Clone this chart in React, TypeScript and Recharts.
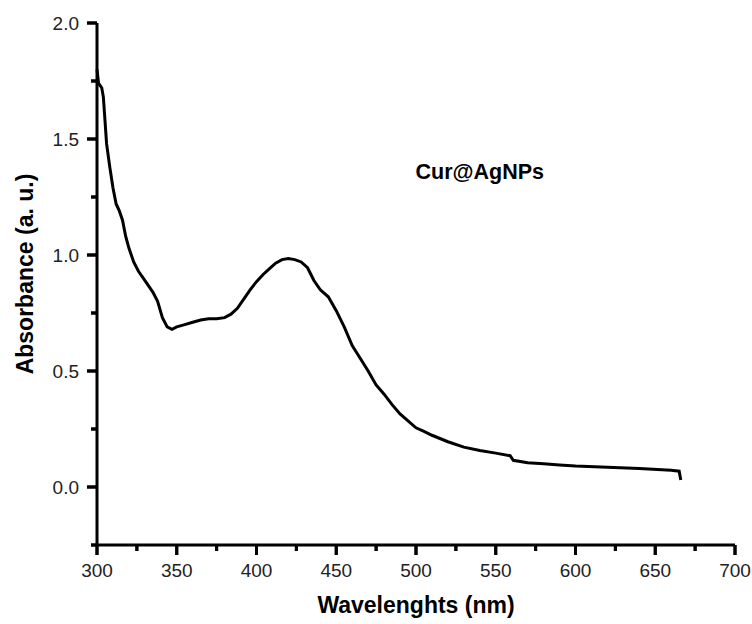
import React from 'react';
import { LineChart, Line, XAxis, YAxis, ReferenceDot, ReferenceLine } from 'recharts';

const wavelengths = [
  300, 301, 302, 303, 304, 305, 306, 308, 310, 312, 314, 316, 318, 320, 323, 326, 329, 332, 335, 338,
  341, 344, 347, 350, 355, 360, 365, 370, 375, 380, 384, 388, 392, 396, 400, 404, 408, 412, 416, 420,
  424, 428, 432, 436, 440, 445, 450, 455, 460, 465, 470, 475, 480, 485, 490, 495, 500, 505, 510, 520,
  530, 540, 550, 559, 561, 570, 580, 590, 600, 620, 640, 660, 665, 666,
];
const absorbance = [
  1.8, 1.74, 1.73, 1.72, 1.68, 1.58, 1.48, 1.38, 1.29, 1.22, 1.19, 1.15, 1.08, 1.03, 0.97, 0.93, 0.9, 0.87, 0.84, 0.8,
  0.73, 0.69, 0.68, 0.69, 0.7, 0.71, 0.72, 0.725, 0.725, 0.73, 0.745, 0.77, 0.81, 0.85, 0.885, 0.915, 0.94, 0.965, 0.98, 0.985,
  0.98, 0.97, 0.945, 0.89, 0.85, 0.82, 0.76, 0.69, 0.61, 0.555, 0.5, 0.44, 0.4, 0.355, 0.315, 0.285, 0.255, 0.24, 0.223, 0.195,
  0.172, 0.157, 0.146, 0.135, 0.115, 0.105, 0.1, 0.095, 0.09, 0.085, 0.08, 0.072, 0.068, 0.03,
];

const xTicks = [300, 325, 350, 375, 400, 425, 450, 475, 500, 525, 550, 575, 600, 625, 650, 675, 700];
const yTicks = [-0.25, 0, 0.25, 0.5, 0.75, 1, 1.25, 1.5, 1.75, 2];

const data = wavelengths.map((w, i) => ({ w, a: absorbance[i] }));

const X_MIN = 300;
const Y_MIN = -0.25;
// tick lengths in data units (about 10px major, 6px minor)
const X_PER_PX = 400 / 638;
const Y_PER_PX = 2.25 / 522;

const isMajorX = (v: number) => v % 50 === 0;
const isMajorY = (v: number) => Math.abs(v * 2 - Math.round(v * 2)) < 1e-6;

const renderXTick = (props: any) => {
  const { x, y, payload } = props;
  const major = isMajorX(payload.value);
  return (
    <g key={`xt-${payload.value}`}>
      <path d={`M${x},${y}V${y + (major ? 10 : 6)}`} stroke="#000" strokeWidth={3} fill="none" />
      {major && (
        <text x={x} y={y + 32} textAnchor="middle" fontSize={19} fill="#222">
          {payload.value}
        </text>
      )}
    </g>
  );
};

const renderYTick = (props: any) => {
  const { x, y, payload } = props;
  const v = payload.value;
  const major = isMajorY(v);
  return (
    <g key={`yt-${v}`}>
      <path d={`M${x},${y}H${x - (major ? 10 : 6)}`} stroke="#000" strokeWidth={3} fill="none" />
      {major && (
        <text x={x - 18} y={y + 7} textAnchor="end" fontSize={19} fill="#222">
          {v.toFixed(1)}
        </text>
      )}
    </g>
  );
};

const xTitle = ({ viewBox }: any) => (
  <text x={viewBox.x + viewBox.width / 2} y={viewBox.y + 68} textAnchor="middle" fontSize={23} fontWeight="bold" fill="#000">
    Wavelenghts (nm)
  </text>
);

const yTitle = ({ viewBox }: any) => {
  const cx = viewBox.x + 33;
  const cy = 274;
  return (
    <text x={cx} y={cy} transform={`rotate(-90 ${cx} ${cy})`} textAnchor="middle" fontSize={23} fontWeight="bold" fill="#000">
      Absorbance (a. u.)
    </text>
  );
};

const sampleLabel = ({ viewBox }: any) => (
  <text
    x={viewBox.x + (viewBox.width || 0) / 2}
    y={viewBox.y + (viewBox.height || 0) / 2 + 8}
    textAnchor="middle"
    fontSize={21.5}
    fontWeight="bold"
    fill="#000"
  >
    Cur@AgNPs
  </text>
);

export default function App() {
  return (
    <div style={{ position: 'absolute', left: 0, top: 0, fontFamily: 'Liberation Sans, Arial, sans-serif' }}>
      <LineChart width={752} height={624} data={data} margin={{ top: 23, right: 17, left: 0, bottom: 0 }}>
        <XAxis
          dataKey="w"
          type="number"
          domain={[300, 700]}
          ticks={xTicks}
          interval={0}
          tickSize={0}
          tickMargin={0}
          tickLine={false}
          tick={renderXTick}
          axisLine={{ stroke: '#000', strokeWidth: 3 }}
          height={79}
          label={{ content: xTitle }}
        />
        <YAxis
          type="number"
          domain={[-0.25, 2]}
          ticks={yTicks}
          interval={0}
          tickSize={0}
          tickMargin={0}
          tickLine={false}
          tick={renderYTick}
          axisLine={{ stroke: '#000', strokeWidth: 3 }}
          width={97}
          label={{ content: yTitle }}
        />
        {xTicks.map((t) => (
          <ReferenceLine
            key={`xm-${t}`}
            ifOverflow="visible"
            stroke="#000"
            strokeWidth={3}
            segment={[
              { x: t, y: Y_MIN },
              { x: t, y: Y_MIN - (isMajorX(t) ? 10 : 6) * Y_PER_PX },
            ]}
          />
        ))}
        {yTicks.map((t) => (
          <ReferenceLine
            key={`ym-${t}`}
            ifOverflow="visible"
            stroke="#000"
            strokeWidth={3}
            segment={[
              { x: X_MIN, y: t },
              { x: X_MIN - (isMajorY(t) ? 10 : 6) * X_PER_PX, y: t },
            ]}
          />
        ))}
        <Line type="linear" dataKey="a" stroke="#000" strokeWidth={3} dot={false} isAnimationActive={false} />
        <ReferenceDot x={540} y={1.36} r={0} stroke="none" label={{ content: sampleLabel }} />
      </LineChart>
    </div>
  );
}
